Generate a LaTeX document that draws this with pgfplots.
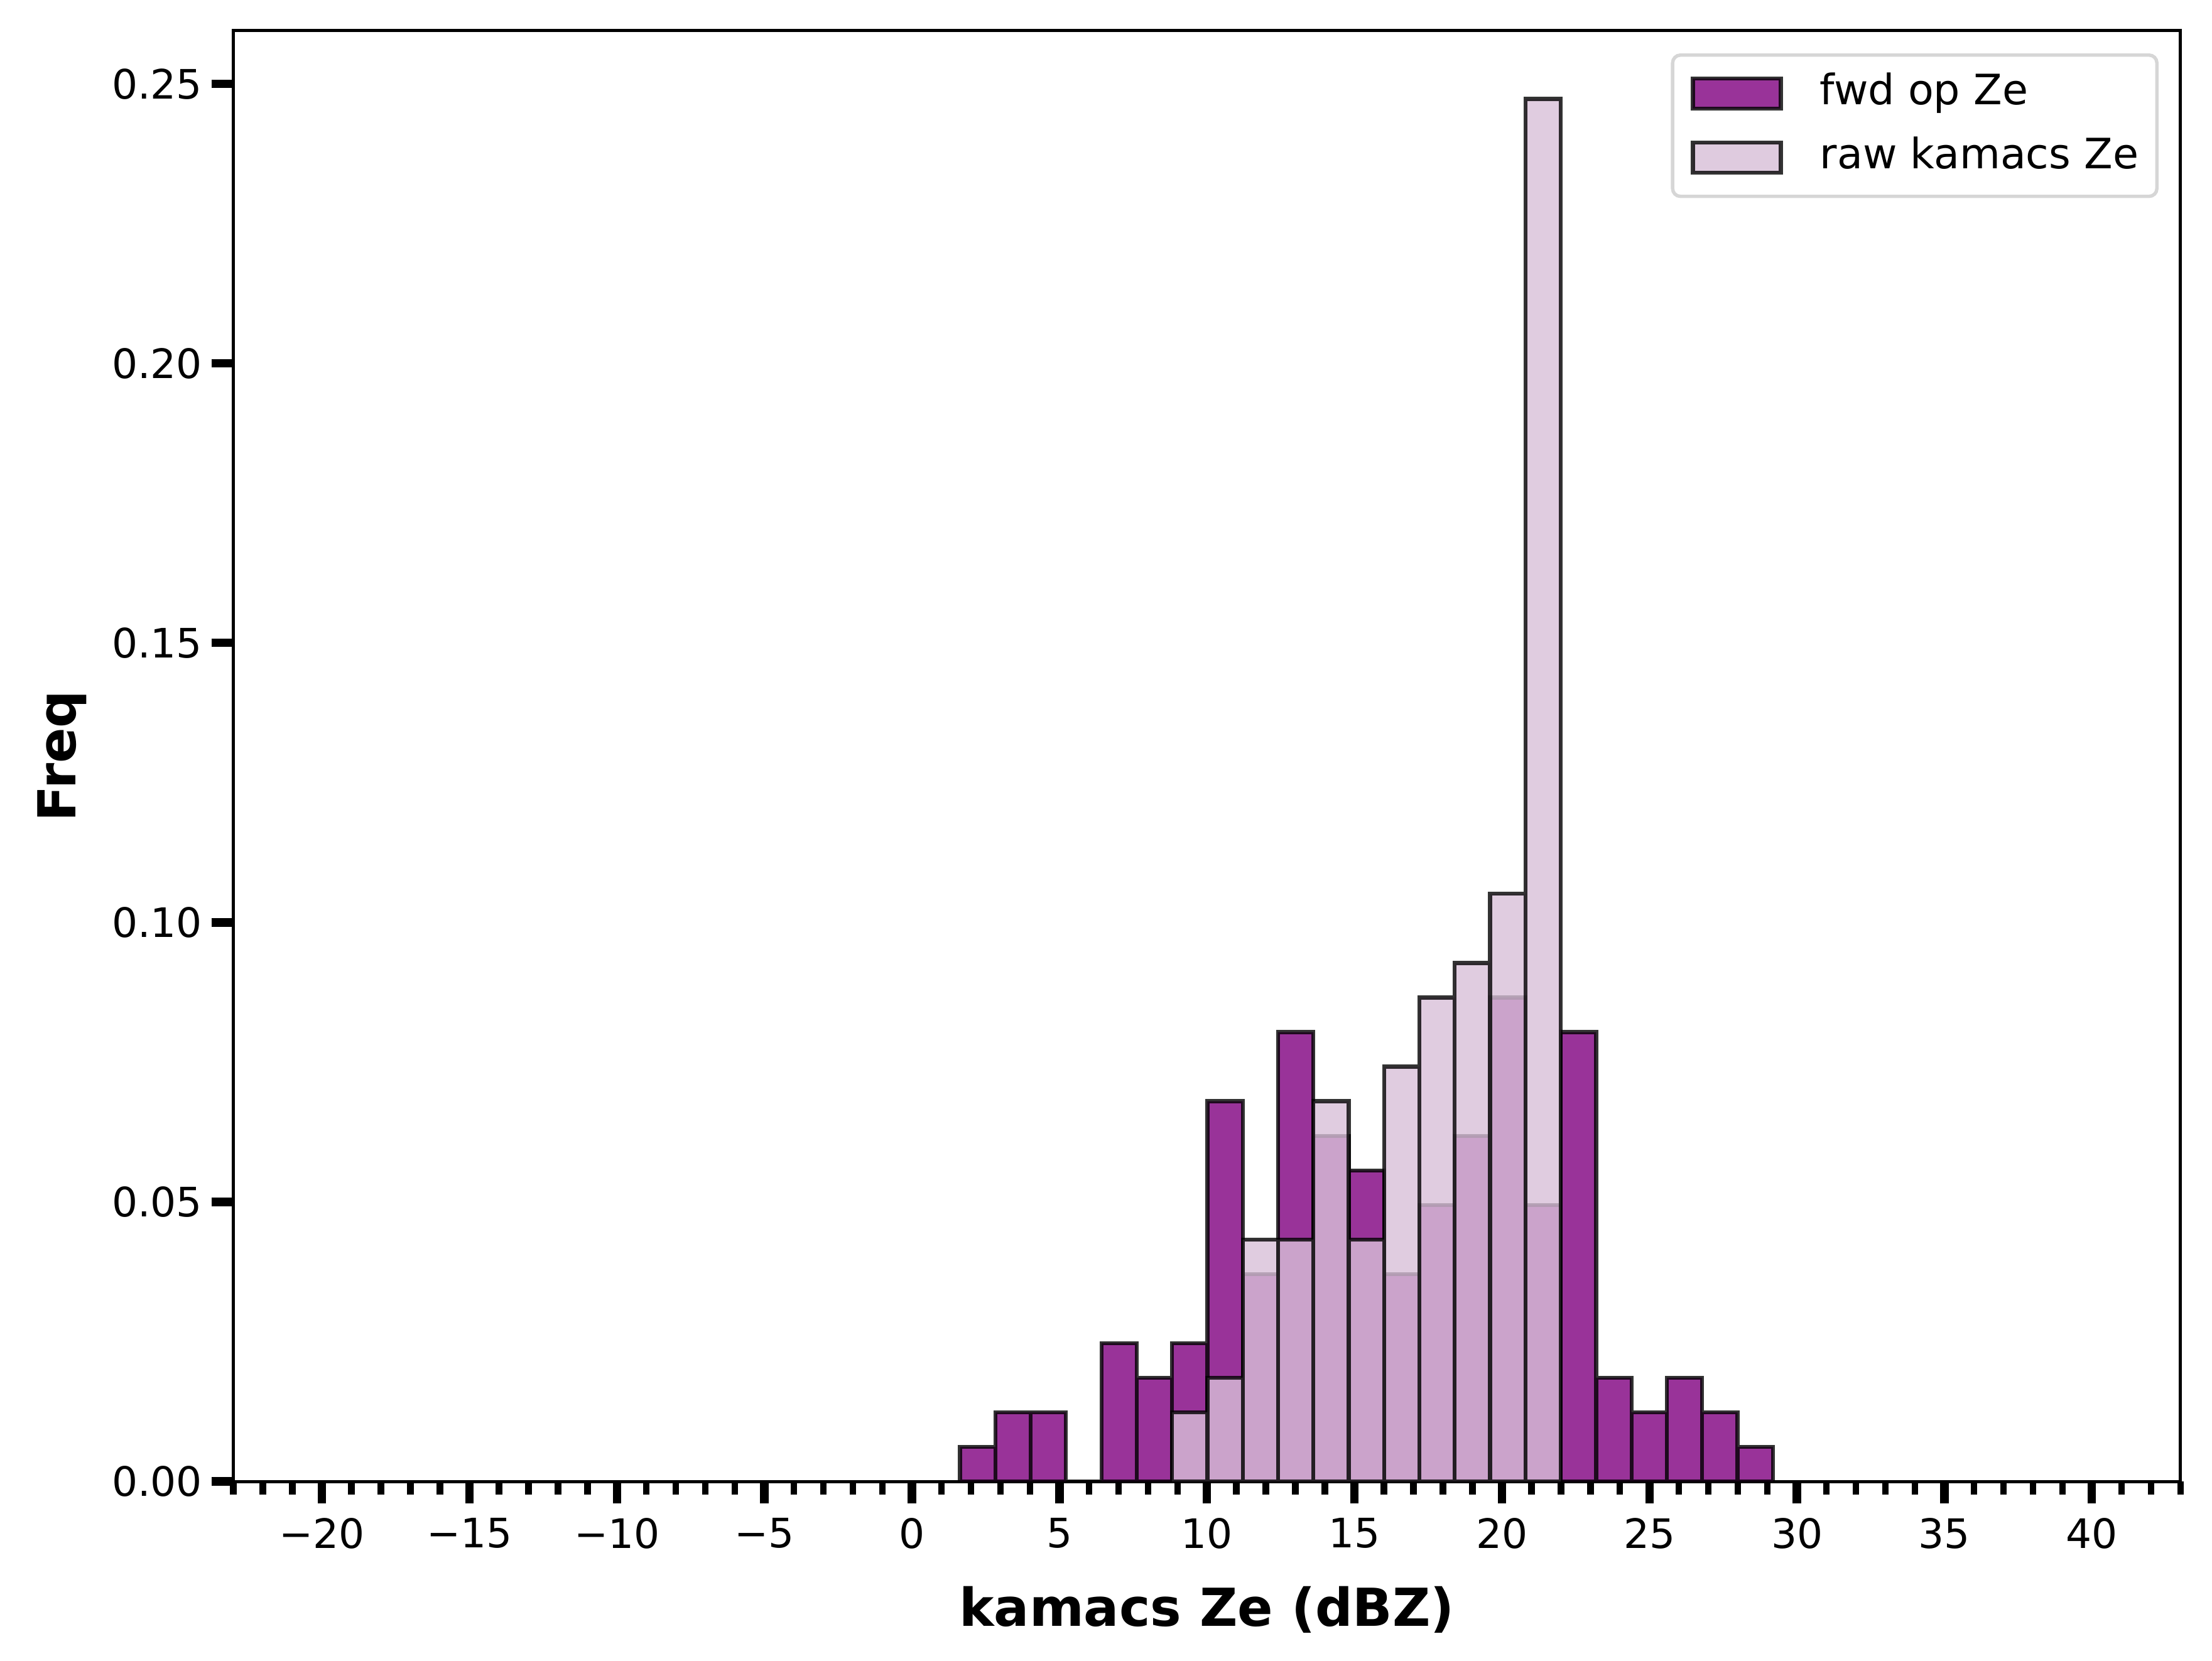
\documentclass[border=0pt]{standalone}
\usepackage{fontspec}
\setmainfont{DejaVu Sans}
\usepackage{pgfplots}
\pgfplotsset{compat=1.18}
\definecolor{fwdc}{RGB}{128,0,128}
\definecolor{rawc}{RGB}{216,191,216}
\definecolor{legframe}{RGB}{214,214,214}

% bin centres (bin width 1.198), density = count/(135*1.198)
\pgfplotstableread{
x y
2.229 0.00618
3.427 0.01237
4.625 0.01237
5.823 0.0
7.021 0.02473
8.219 0.01855
9.417 0.02473
10.615 0.06801
11.813 0.03710
13.011 0.08038
14.209 0.06183
15.407 0.05565
16.605 0.03710
17.803 0.04947
19.001 0.06183
20.199 0.08656
21.397 0.04947
22.595 0.08038
23.793 0.01855
24.991 0.01237
26.189 0.01855
27.387 0.01237
28.585 0.00618
}\fwdtable
\pgfplotstableread{
x y
9.417 0.01237
10.615 0.01855
11.813 0.04328
13.011 0.04328
14.209 0.06801
15.407 0.04328
16.605 0.07420
17.803 0.08656
19.001 0.09275
20.199 0.10511
21.397 0.24732
}\rawtable

\begin{document}
\begin{tikzpicture}
\begin{axis}[
  at={(0,0)}, anchor=south west,
  scale only axis,
  width=744pt, height=554.4pt,
  xmin=-23, xmax=43, ymin=0, ymax=0.2595,
  axis line style={line width=1.2pt, black},
  tick pos=left, tick align=outside,
  xtick={-20,-15,-10,-5,0,5,10,15,20,25,30,35,40},
  xticklabels={−20,−15,−10,−5,0,5,10,15,20,25,30,35,40},
  minor xtick={-23,-22,...,43},
  ytick={0,0.05,0.10,0.15,0.20,0.25},
  yticklabels={0.00,0.05,0.10,0.15,0.20,0.25},
  major tick length=8.4pt, minor tick length=5pt,
  major tick style={line width=3.2pt, black},
  minor tick style={line width=2.5pt, black},
  tick label style={font=\fontsize{15.5}{18}\selectfont},
  xticklabel style={yshift=-2pt},
  xlabel={kamacs Ze (dBZ)}, ylabel={Freq},
  every axis x label/.style={at={(axis description cs:0.5,0)}, anchor=center, yshift=-49pt,
    font=\fontsize{20}{24}\selectfont\bfseries},
  every axis y label/.style={at={(axis description cs:0,0.5)}, xshift=-65.4pt, rotate=90, anchor=center,
    font=\fontsize{20}{24}\selectfont\bfseries},
  legend cell align=left,
  legend style={at={(rel axis cs:0.9888,0.9844)}, anchor=north east,
    draw=legframe, line width=1.3pt, rounded corners=3pt,
    font=\fontsize{16}{19}\selectfont,
    inner xsep=7pt, inner ysep=7pt, row sep=9pt,
    nodes={inner sep=0pt, text height=12pt, text depth=3.5pt},
    /tikz/every odd column/.append style={column sep=14.2pt}},
  legend image code/.code={\draw[#1, sharp corners] (0pt,-5.75pt) rectangle (33.6pt,5.75pt);},
]
\addplot[ybar, bar width=1.198, bar shift=0pt, fill=fwdc, fill opacity=0.8,
  draw=black, draw opacity=0.8, line width=1.5pt] table[x=x,y=y] {\fwdtable};
\addlegendentry{fwd op Ze}
\addplot[ybar, bar width=1.198, bar shift=0pt, fill=rawc, fill opacity=0.8,
  draw=black, draw opacity=0.8, line width=1.5pt] table[x=x,y=y] {\rawtable};
\addlegendentry{raw kamacs Ze}
\end{axis}
\pgfresetboundingbox
\path[use as bounding box] (-89.2pt,-68.4pt) rectangle (756.07pt,566.16pt);
\end{tikzpicture}
\end{document}
